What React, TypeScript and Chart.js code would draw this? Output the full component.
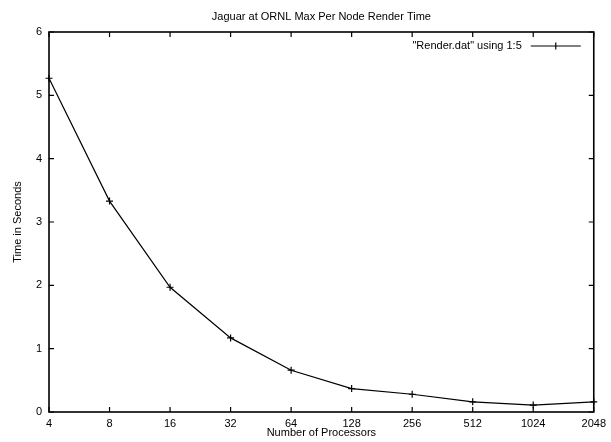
import React, { useEffect, useRef } from "react";
import { Chart, registerables } from "chart.js";

Chart.register(...registerables);

const categories = ["4", "8", "16", "32", "64", "128", "256", "512", "1024", "2048"];
const renderTimes = [5.27, 3.33, 1.97, 1.17, 0.66, 0.37, 0.28, 0.16, 0.11, 0.16];
const yTickValues = [0, 1, 2, 3, 4, 5, 6];
const chartTitle = "Jaguar at ORNL Max Per Node Render Time";
const xTitle = "Number of Processors";
const yTitle = "Time in Seconds";
const seriesLabel = '"Render.dat" using 1:5';

const FAMILY = "'Liberation Sans', Arial, Helvetica, sans-serif";
const FONT = "11px " + FAMILY;

const gnuplotPlugin = {
  id: "gnuplotDecor",
  afterDraw(chart: any) {
    const { ctx, chartArea } = chart;
    const { left, right, top, bottom } = chartArea;
    const xs = chart.scales.x;
    const ys = chart.scales.y;
    ctx.save();
    ctx.strokeStyle = "#000";
    // inward ticks
    const tl = 5;
    ctx.lineWidth = 1.2;
    ctx.beginPath();
    categories.forEach((_c, i) => {
      const px = xs.getPixelForValue(i);
      ctx.moveTo(px, bottom);
      ctx.lineTo(px, bottom - tl);
      ctx.moveTo(px, top);
      ctx.lineTo(px, top + tl);
    });
    yTickValues.forEach((v) => {
      const py = ys.getPixelForValue(v);
      ctx.moveTo(left, py);
      ctx.lineTo(left + tl, py);
      ctx.moveTo(right, py);
      ctx.lineTo(right - tl, py);
    });
    ctx.stroke();
    // frame
    ctx.lineWidth = 1.6;
    ctx.strokeRect(left, top, right - left, bottom - top);
    // texts
    ctx.fillStyle = "#000";
    ctx.font = FONT;
    ctx.textAlign = "center";
    ctx.textBaseline = "middle";
    const cx = (left + right) / 2;
    ctx.fillText(chartTitle, cx, 17);
    ctx.fillText(xTitle, cx, 433);
    ctx.save();
    ctx.translate(18, (top + bottom) / 2);
    ctx.rotate(-Math.PI / 2);
    ctx.fillText(yTitle, 0, 0);
    ctx.restore();
    // legend
    const ly = top + 14;
    const lineEnd = right - 13;
    const lineStart = lineEnd - 50;
    ctx.textAlign = "right";
    ctx.fillText(seriesLabel, lineStart - 9, ly);
    ctx.lineWidth = 1.2;
    ctx.beginPath();
    ctx.moveTo(lineStart, ly);
    ctx.lineTo(lineEnd, ly);
    const mx = (lineStart + lineEnd) / 2;
    ctx.moveTo(mx, ly - 3.5);
    ctx.lineTo(mx, ly + 3.5);
    ctx.moveTo(mx - 3.5, ly);
    ctx.lineTo(mx + 3.5, ly);
    ctx.stroke();
    ctx.restore();
  },
};

export default function App() {
  const ref = useRef<HTMLCanvasElement>(null);
  useEffect(() => {
    document.body.style.margin = "0";
    const chart = new Chart(ref.current as HTMLCanvasElement, {
      type: "line",
      data: {
        labels: categories,
        datasets: [
          {
            label: seriesLabel,
            data: renderTimes,
            borderColor: "#000",
            backgroundColor: "#000",
            borderWidth: 1.2,
            pointStyle: "cross",
            pointRadius: 3.5,
            pointBorderWidth: 1.2,
            pointBorderColor: "#000",
            tension: 0,
            fill: false,
          },
        ],
      },
      options: {
        responsive: false,
        animation: false,
        layout: { padding: { top: 32, right: 15, left: 0, bottom: 0 } },
        plugins: {
          legend: { display: false },
          title: { display: false },
          tooltip: { enabled: false },
        },
        scales: {
          x: {
            type: "category",
            offset: false,
            grid: { display: false, drawTicks: false },
            border: { display: false },
            ticks: {
              color: "#000",
              font: { family: FAMILY, size: 11 },
              padding: 5,
              maxRotation: 0,
              autoSkip: false,
            },
            afterFit: (s: any) => {
              s.height = 30;
            },
          },
          y: {
            min: 0,
            max: 6,
            grid: { display: false, drawTicks: false },
            border: { display: false },
            ticks: {
              stepSize: 1,
              color: "#000",
              font: { family: FAMILY, size: 11 },
              padding: 7,
            },
            afterFit: (s: any) => {
              s.width = 49;
            },
          },
        },
      },
      plugins: [gnuplotPlugin],
    });
    return () => chart.destroy();
  }, []);
  return (
    <div style={{ width: 611, height: 442 }}>
      <canvas ref={ref} width={611} height={442} style={{ display: "block" }} />
    </div>
  );
}
